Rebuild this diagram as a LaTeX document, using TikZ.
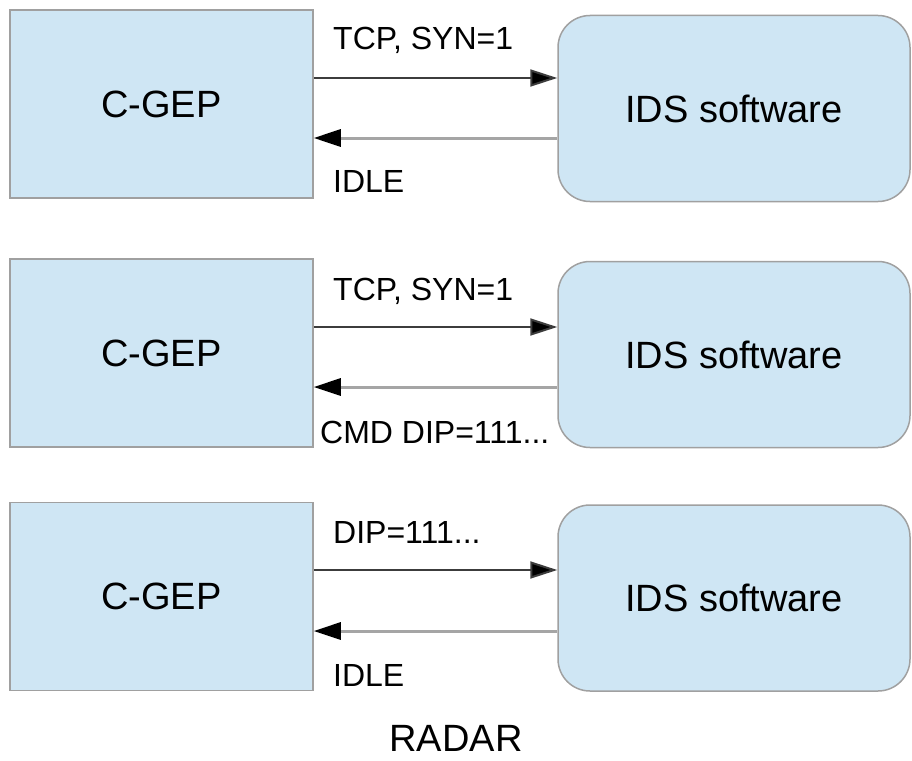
\documentclass[tikz,border=0pt]{standalone}
\usepackage{fontspec}
\setmainfont{Liberation Sans}
\usetikzlibrary{arrows.meta}
\definecolor{boxfill}{RGB}{207,230,244}
\definecolor{boxline}{RGB}{160,160,160}
\definecolor{fwdline}{RGB}{60,60,60}
\definecolor{backline}{RGB}{165,165,165}
\tikzset{
  gepbox/.style={draw=boxline, line width=1.5pt, fill=boxfill, minimum width=303pt, minimum height=188pt, inner sep=0pt, font=\fontsize{38}{44}\selectfont},
  idsbox/.style={draw=boxline, line width=1.5pt, fill=boxfill, rounded corners=32pt, minimum width=352pt, minimum height=186pt, inner sep=0pt, font=\fontsize{38}{44}\selectfont},
  fwd/.style={draw=fwdline, line width=2pt, -{Triangle[length=27pt,width=17pt,fill=black]}},
  back/.style={draw=backline, line width=3pt, -{Triangle[length=27pt,width=17pt,fill=black,color=black]}},
  lbl/.style={anchor=base west, inner sep=0pt, font=\fontsize{32}{36}\selectfont},
}
\begin{document}
\begin{tikzpicture}[x=1pt,y=-1pt]
\useasboundingbox (0,0) rectangle (912,760);
% row 1
\node[gepbox] (l1) at (161.5,104) {C-GEP};
\node[idsbox] (r1) at (734,108.5) {IDS software};
\coordinate (a1) at (0,78);
\coordinate (b1) at (0,138);
\draw[fwd] (l1.east |- a1) -- (r1.west |- a1);
\draw[back] (r1.west |- b1) -- (l1.east |- b1);
\node[lbl] (t1) at (333,50) {TCP, SYN=1};
\node[lbl] (i1) at (333,192) {IDLE};
% row 2
\node[gepbox] (l2) at (161.5,353) {C-GEP};
\node[idsbox] (r2) at (734,354.5) {IDS software};
\coordinate (a2) at (0,327);
\coordinate (b2) at (0,387);
\draw[fwd] (l2.east |- a2) -- (r2.west |- a2);
\draw[back] (r2.west |- b2) -- (l2.east |- b2);
\node[lbl] (t2) at (333,300) {TCP, SYN=1};
\node[lbl] (c2) at (320,443) {CMD DIP=111...};
% row 3
\node[gepbox] (l3) at (161.5,596.5) {C-GEP};
\node[idsbox] (r3) at (734,598) {IDS software};
\coordinate (a3) at (0,570);
\coordinate (b3) at (0,631);
\draw[fwd] (l3.east |- a3) -- (r3.west |- a3);
\draw[back] (r3.west |- b3) -- (l3.east |- b3);
\node[lbl] (t3) at (333,543) {DIP=111...};
\node[lbl] (i3) at (333,686) {IDLE};
% caption
\node[anchor=base, inner sep=0pt, font=\fontsize{38}{44}\selectfont] (cap) at (456,751) {RADAR};
\end{tikzpicture}
\end{document}
